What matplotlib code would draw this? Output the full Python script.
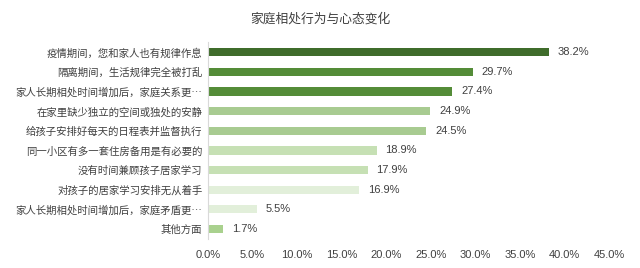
import matplotlib
matplotlib.use("Agg")
import matplotlib.pyplot as plt

categories = [
    "疫情期间，您和家人也有规律作息",
    "隔离期间，生活规律完全被打乱",
    "家人长期相处时间增加后，家庭关系更…",
    "在家里缺少独立的空间或独处的安静",
    "给孩子安排好每天的日程表并监督执行",
    "同一小区有多一套住房备用是有必要的",
    "没有时间兼顾孩子居家学习",
    "对孩子的居家学习安排无从着手",
    "家人长期相处时间增加后，家庭矛盾更…",
    "其他方面",
]
values = [38.2, 29.7, 27.4, 24.9, 24.5, 18.9, 17.9, 16.9, 5.5, 1.7]
colors = ["#3f6c2b", "#548c38", "#548c38", "#a8cb91", "#a8cb91",
          "#c6e0b4", "#c6e0b4", "#e2efda", "#e2efda", "#a9d18e"]
xticks = [0, 5, 10, 15, 20, 25, 30, 35, 40, 45]

plt.rcParams["font.family"] = ["Noto Sans CJK SC", "DejaVu Sans"]
text_color = "#404040"
num_font = ["Liberation Sans", "DejaVu Sans"]

fig = plt.figure(figsize=(6.4, 2.68), dpi=100)
ax = fig.add_axes([0.325, 0.109, 0.627, 0.733])

pos = list(range(len(categories)))
ax.barh(pos, values, height=0.42, color=colors)
for y, v in zip(pos, values):
    ax.text(v + 1.0, y, f"{v:.1f}%", va="center", ha="left",
            fontsize=8, color=text_color, family=num_font)

ax.set_yticks(pos)
ax.set_yticklabels(categories, fontsize=7.5, color=text_color)
ax.set_ylim(len(categories) - 0.5, -0.5)
ax.set_xlim(0, 45)
ax.set_xticks(xticks)
ax.set_xticklabels([f"{t:.1f}%" for t in xticks], fontsize=8,
                   color=text_color, family=num_font)
ax.tick_params(axis="both", length=0)
ax.tick_params(axis="x", pad=8)
ax.tick_params(axis="y", pad=4)
for s in ["top", "right", "bottom"]:
    ax.spines[s].set_visible(False)
ax.spines["left"].set_color("#d9d9d9")
ax.spines["left"].set_linewidth(0.8)

fig.text(0.5, 0.93, "家庭相处行为与心态变化", ha="center", va="center",
         fontsize=9.2, color=text_color)

fig.savefig("out.png", dpi=100)
